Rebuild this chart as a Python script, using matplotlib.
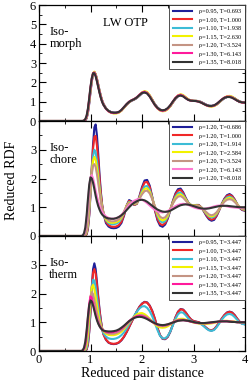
"""Reduced RDF of LW OTP along an isomorph, an isochore and an isotherm (three stacked panels)."""
import matplotlib
matplotlib.use("Agg")
import matplotlib.pyplot as plt
from matplotlib.ticker import MultipleLocator

plt.rcParams["font.family"] = ["Liberation Serif", "DejaVu Serif"]

# --- shared r grid (reduced pair distance) ---
r_grid = [0.00, 0.80, 0.825, 0.85, 0.875, 0.90, 0.925, 0.95, 0.975, 1.00,
          1.025, 1.05, 1.075, 1.10, 1.125, 1.15, 1.175, 1.20, 1.225, 1.25,
          1.30, 1.35, 1.40, 1.45, 1.50, 1.55, 1.60, 1.65, 1.70, 1.75,
          1.80, 1.85, 1.90, 1.95, 2.00, 2.05, 2.10, 2.15, 2.20, 2.25,
          2.30, 2.35, 2.40, 2.45, 2.50, 2.55, 2.60, 2.65, 2.70, 2.75,
          2.80, 2.85, 2.90, 2.95, 3.00, 3.05, 3.10, 3.15, 3.20, 3.25,
          3.30, 3.35, 3.40, 3.45, 3.50, 3.55, 3.60, 3.65, 3.70, 3.75,
          3.80, 3.85, 3.90, 3.95, 4.00]

# --- isomorph ---
morph_labels = ["ρ=0.95, T=0.693", "ρ=1.00, T=1.000", "ρ=1.10, T=1.938", "ρ=1.15, T=2.630",
                "ρ=1.20, T=3.524", "ρ=1.30, T=6.143", "ρ=1.35, T=8.018"]
g_morph_095 = [0, 0, 0, 0, 0.0, 0.03, 0.14, 0.42, 0.9, 1.5, 2.05, 2.42, 2.52, 2.42, 2.18, 1.88, 1.58, 1.3, 1.07, 0.9,
               0.66, 0.53, 0.46, 0.43, 0.43, 0.46, 0.55, 0.69, 0.84, 0.97,
               1.05, 1.11, 1.19, 1.31, 1.43, 1.49, 1.45, 1.31, 1.1, 0.87,
               0.7, 0.59, 0.55, 0.56, 0.63, 0.77, 0.96, 1.15, 1.28, 1.34,
               1.3, 1.21, 1.11, 1.06, 1.04, 1.04, 1.03, 0.98, 0.91, 0.84,
               0.79, 0.78, 0.8, 0.86, 0.96, 1.08, 1.18, 1.24, 1.26, 1.24,
               1.17, 1.08, 1.01, 0.97, 0.95]
g_morph_100 = [0, 0, 0, 0, 0.01, 0.04, 0.16, 0.46, 0.95, 1.55, 2.08, 2.44, 2.53, 2.41, 2.16, 1.86, 1.56, 1.29, 1.06, 0.89,
               0.65, 0.52, 0.45, 0.42, 0.42, 0.45, 0.54, 0.69, 0.84, 0.97,
               1.06, 1.12, 1.2, 1.32, 1.44, 1.5, 1.46, 1.31, 1.09, 0.86,
               0.69, 0.58, 0.54, 0.55, 0.63, 0.77, 0.97, 1.16, 1.29, 1.35,
               1.31, 1.21, 1.11, 1.06, 1.04, 1.04, 1.02, 0.97, 0.9, 0.83,
               0.78, 0.77, 0.79, 0.86, 0.97, 1.09, 1.19, 1.25, 1.27, 1.24,
               1.16, 1.07, 1.0, 0.96, 0.95]
g_morph_110 = [0, 0, 0, 0, 0.01, 0.05, 0.18, 0.5, 1.0, 1.6, 2.1, 2.45, 2.52, 2.4, 2.15, 1.85, 1.55, 1.28, 1.05, 0.88,
               0.65, 0.52, 0.45, 0.42, 0.42, 0.45, 0.55, 0.70, 0.85, 0.98,
               1.06, 1.12, 1.20, 1.32, 1.44, 1.50, 1.45, 1.30, 1.08, 0.85,
               0.68, 0.57, 0.53, 0.55, 0.63, 0.78, 0.98, 1.17, 1.30, 1.35,
               1.30, 1.20, 1.10, 1.05, 1.04, 1.04, 1.02, 0.97, 0.90, 0.83,
               0.78, 0.77, 0.79, 0.86, 0.97, 1.09, 1.19, 1.25, 1.27, 1.24,
               1.16, 1.07, 1.00, 0.96, 0.95]
g_morph_115 = [0, 0, 0, 0, 0.01, 0.06, 0.2, 0.53, 1.04, 1.64, 2.14, 2.48, 2.55, 2.41, 2.15, 1.84, 1.54, 1.27, 1.04, 0.87,
               0.64, 0.5, 0.42, 0.39, 0.39, 0.43, 0.53, 0.69, 0.85, 0.98,
               1.07, 1.13, 1.22, 1.35, 1.48, 1.55, 1.5, 1.33, 1.09, 0.84,
               0.65, 0.54, 0.5, 0.52, 0.61, 0.77, 0.98, 1.19, 1.33, 1.39,
               1.34, 1.23, 1.12, 1.06, 1.04, 1.04, 1.02, 0.96, 0.88, 0.81,
               0.76, 0.74, 0.77, 0.85, 0.97, 1.1, 1.21, 1.28, 1.3, 1.26,
               1.17, 1.07, 1.0, 0.95, 0.94]
g_morph_120 = [0, 0, 0, 0, 0.02, 0.07, 0.22, 0.56, 1.08, 1.68, 2.16, 2.47, 2.52, 2.38, 2.12, 1.82, 1.52, 1.25, 1.03, 0.86,
               0.64, 0.51, 0.44, 0.41, 0.41, 0.45, 0.55, 0.7, 0.86, 0.99,
               1.07, 1.13, 1.21, 1.34, 1.46, 1.52, 1.46, 1.3, 1.07, 0.84,
               0.67, 0.56, 0.52, 0.54, 0.63, 0.79, 0.99, 1.18, 1.31, 1.36,
               1.31, 1.2, 1.1, 1.05, 1.04, 1.04, 1.01, 0.96, 0.89, 0.82,
               0.77, 0.76, 0.79, 0.87, 0.98, 1.1, 1.2, 1.26, 1.27, 1.23,
               1.15, 1.06, 0.99, 0.95, 0.95]
g_morph_130 = [0, 0, 0, 0, 0.02, 0.08, 0.25, 0.6, 1.13, 1.73, 2.2, 2.48, 2.5, 2.35, 2.08, 1.78, 1.49, 1.23, 1.01, 0.85,
               0.63, 0.5, 0.43, 0.41, 0.42, 0.46, 0.57, 0.72, 0.87, 1.0,
               1.08, 1.14, 1.23, 1.36, 1.47, 1.51, 1.44, 1.27, 1.04, 0.82,
               0.66, 0.56, 0.53, 0.56, 0.65, 0.81, 1.01, 1.2, 1.32, 1.35,
               1.29, 1.18, 1.09, 1.05, 1.04, 1.03, 1.0, 0.95, 0.88, 0.81,
               0.77, 0.77, 0.8, 0.88, 1.0, 1.12, 1.21, 1.26, 1.26, 1.21,
               1.13, 1.05, 0.99, 0.95, 0.95]
g_morph_135 = [0, 0, 0, 0, 0.03, 0.1, 0.28, 0.64, 1.18, 1.77, 2.22, 2.47, 2.47, 2.31, 2.05, 1.75, 1.46, 1.2, 0.99, 0.84,
               0.64, 0.52, 0.45, 0.43, 0.43, 0.47, 0.57, 0.72, 0.87, 0.99,
               1.07, 1.13, 1.22, 1.34, 1.45, 1.48, 1.42, 1.26, 1.04, 0.83,
               0.68, 0.58, 0.55, 0.58, 0.67, 0.82, 1.01, 1.18, 1.29, 1.32,
               1.27, 1.17, 1.09, 1.05, 1.04, 1.03, 1.0, 0.95, 0.88, 0.82,
               0.78, 0.78, 0.81, 0.89, 1.0, 1.11, 1.2, 1.24, 1.24, 1.2,
               1.13, 1.05, 0.99, 0.96, 0.95]

# --- isochore (rho = 1.20) ---
chore_labels = ["ρ=1.20, T=0.686", "ρ=1.20, T=1.000", "ρ=1.20, T=1.914", "ρ=1.20, T=2.584",
                "ρ=1.20, T=3.524", "ρ=1.20, T=6.143", "ρ=1.20, T=8.018"]
g_chore_0686 = [0, 0, 0, 0, 0, 0.01, 0.06, 0.25, 0.7, 1.45, 2.35, 3.2, 3.78, 3.88, 3.5, 2.85, 2.15, 1.55, 1.1, 0.8,
                0.45, 0.33, 0.28, 0.27, 0.28, 0.33, 0.45, 0.7, 1.05, 1.25,
                1.2, 1.08, 1.12, 1.38, 1.7, 1.93, 1.95, 1.75, 1.35, 0.9,
                0.55, 0.36, 0.32, 0.4, 0.6, 0.9, 1.22, 1.48, 1.63, 1.65,
                1.52, 1.32, 1.16, 1.08, 1.06, 1.08, 1.08, 1.0, 0.86, 0.7,
                0.58, 0.53, 0.56, 0.7, 0.9, 1.12, 1.3, 1.42, 1.46, 1.4,
                1.27, 1.1, 0.97, 0.9, 0.88]
g_chore_1000 = [0, 0, 0, 0, 0, 0.01, 0.07, 0.28, 0.75, 1.5, 2.35, 3.05, 3.45, 3.48, 3.15, 2.6, 2.0, 1.48, 1.08, 0.8,
                0.5, 0.38, 0.33, 0.32, 0.33, 0.38, 0.5, 0.73, 1.05, 1.22,
                1.18, 1.08, 1.12, 1.36, 1.65, 1.86, 1.88, 1.7, 1.33, 0.92,
                0.6, 0.42, 0.38, 0.45, 0.63, 0.92, 1.2, 1.44, 1.58, 1.6,
                1.48, 1.3, 1.15, 1.08, 1.06, 1.07, 1.07, 1.0, 0.87, 0.73,
                0.62, 0.57, 0.6, 0.72, 0.91, 1.11, 1.28, 1.39, 1.43, 1.38,
                1.26, 1.1, 0.98, 0.91, 0.89]
g_chore_1914 = [0, 0, 0, 0, 0.01, 0.03, 0.12, 0.38, 0.88, 1.55, 2.25, 2.78, 3.0, 2.92, 2.6, 2.18, 1.72, 1.32, 1.0, 0.78,
                0.55, 0.45, 0.41, 0.41, 0.43, 0.48, 0.6, 0.8, 1.05, 1.18,
                1.16, 1.1, 1.14, 1.33, 1.56, 1.72, 1.74, 1.6, 1.32, 1.0,
                0.7, 0.52, 0.47, 0.52, 0.67, 0.92, 1.17, 1.37, 1.49, 1.51,
                1.42, 1.28, 1.15, 1.08, 1.06, 1.06, 1.05, 0.99, 0.89, 0.77,
                0.68, 0.64, 0.67, 0.77, 0.93, 1.1, 1.25, 1.34, 1.37, 1.33,
                1.23, 1.1, 0.99, 0.93, 0.91]
g_chore_2584 = [0, 0, 0, 0, 0.01, 0.04, 0.15, 0.45, 0.98, 1.62, 2.22, 2.62, 2.75, 2.65, 2.38, 2.02, 1.62, 1.27, 0.99, 0.79,
                0.58, 0.49, 0.46, 0.46, 0.48, 0.53, 0.64, 0.83, 1.05, 1.16,
                1.15, 1.11, 1.15, 1.31, 1.5, 1.64, 1.66, 1.54, 1.3, 1.02,
                0.76, 0.59, 0.54, 0.58, 0.71, 0.93, 1.15, 1.32, 1.43, 1.45,
                1.38, 1.26, 1.14, 1.08, 1.06, 1.06, 1.05, 0.99, 0.9, 0.8,
                0.71, 0.68, 0.71, 0.8, 0.94, 1.09, 1.22, 1.3, 1.33, 1.3,
                1.21, 1.1, 1.0, 0.94, 0.92]
g_chore_3524 = [0, 0, 0, 0, 0.01, 0.05, 0.18, 0.52, 1.05, 1.65, 2.15, 2.45, 2.5, 2.4, 2.15, 1.85, 1.52, 1.22, 0.98, 0.8,
                0.62, 0.54, 0.51, 0.51, 0.53, 0.58, 0.68, 0.85, 1.04, 1.14,
                1.14, 1.12, 1.16, 1.29, 1.45, 1.56, 1.58, 1.48, 1.28, 1.04,
                0.82, 0.67, 0.62, 0.65, 0.76, 0.94, 1.13, 1.28, 1.37, 1.39,
                1.33, 1.23, 1.13, 1.07, 1.05, 1.05, 1.04, 0.99, 0.91, 0.83,
                0.75, 0.72, 0.75, 0.83, 0.95, 1.08, 1.19, 1.26, 1.28, 1.26,
                1.18, 1.09, 1.0, 0.95, 0.93]
g_chore_6143 = [0, 0, 0, 0.01, 0.06, 0.22, 0.6, 1.15, 1.7, 2.05, 2.12, 2.0, 1.8, 1.58, 1.38, 1.2, 1.05, 0.93, 0.84, 0.77,
                0.68, 0.63, 0.6, 0.6, 0.62, 0.66, 0.73, 0.83, 0.95, 1.07,
                1.16, 1.23, 1.27, 1.28, 1.26, 1.21, 1.14, 1.06, 0.98, 0.91,
                0.86, 0.83, 0.82, 0.84, 0.87, 0.92, 0.98, 1.04, 1.08, 1.11,
                1.12, 1.11, 1.08, 1.04, 1.0, 0.97, 0.95, 0.94, 0.94, 0.96,
                0.98, 1.0, 1.03, 1.05, 1.06, 1.06, 1.05, 1.03, 1.01, 1.0,
                0.99, 0.98, 0.98, 0.99, 1.0]
g_chore_8018 = [0, 0, 0, 0.02, 0.1, 0.3, 0.72, 1.28, 1.78, 2.04, 2.0, 1.85, 1.63, 1.4, 1.2, 1.04, 0.92, 0.82, 0.75, 0.7,
                0.64, 0.61, 0.6, 0.6, 0.62, 0.66, 0.72, 0.8, 0.9, 1.0,
                1.09, 1.16, 1.21, 1.25, 1.26, 1.24, 1.19, 1.12, 1.05, 0.98,
                0.92, 0.88, 0.85, 0.84, 0.85, 0.88, 0.93, 0.98, 1.03, 1.07,
                1.09, 1.1, 1.09, 1.07, 1.04, 1.01, 0.98, 0.96, 0.95, 0.95,
                0.96, 0.98, 1.0, 1.02, 1.04, 1.05, 1.05, 1.05, 1.04, 1.03,
                1.02, 1.01, 1.0, 1.0, 1.0]

# --- isotherm (T = 3.447) ---
therm_labels = ["ρ=0.95, T=3.447", "ρ=1.00, T=3.447", "ρ=1.10, T=3.447", "ρ=1.15, T=3.447",
                "ρ=1.20, T=3.447", "ρ=1.30, T=3.447", "ρ=1.35, T=3.447"]
g_therm_095 = [0, 0, 0, 0, 0, 0.01, 0.05, 0.22, 0.65, 1.35, 2.2, 2.85, 3.05, 2.85, 2.4, 1.9, 1.45, 1.08, 0.8, 0.6,
               0.39, 0.29, 0.25, 0.24, 0.25, 0.29, 0.37, 0.49, 0.65, 0.83,
               1.02, 1.2, 1.38, 1.54, 1.65, 1.71, 1.69, 1.58, 1.39, 1.12,
               0.8, 0.55, 0.42, 0.41, 0.49, 0.67, 0.92, 1.17, 1.37, 1.46,
               1.44, 1.34, 1.21, 1.1, 1.04, 1.02, 1.0, 0.96, 0.88, 0.8,
               0.73, 0.71, 0.75, 0.86, 0.99, 1.13, 1.25, 1.34, 1.37, 1.34,
               1.25, 1.12, 1.01, 0.95, 0.93]
g_therm_100 = [0, 0, 0, 0, 0, 0.01, 0.06, 0.25, 0.7, 1.4, 2.2, 2.72, 2.85, 2.68, 2.28, 1.82, 1.4, 1.05, 0.78, 0.58,
               0.4, 0.3, 0.26, 0.25, 0.26, 0.3, 0.38, 0.5, 0.66, 0.84,
               1.02, 1.2, 1.38, 1.53, 1.64, 1.7, 1.68, 1.57, 1.38, 1.12,
               0.8, 0.55, 0.43, 0.42, 0.5, 0.68, 0.92, 1.17, 1.36, 1.45,
               1.43, 1.33, 1.2, 1.1, 1.04, 1.02, 1.0, 0.96, 0.88, 0.8,
               0.74, 0.72, 0.76, 0.86, 0.99, 1.13, 1.25, 1.33, 1.36, 1.33,
               1.24, 1.12, 1.01, 0.95, 0.93]
g_therm_110 = [0, 0, 0, 0, 0.01, 0.03, 0.12, 0.38, 0.9, 1.6, 2.2, 2.48, 2.45, 2.22, 1.88, 1.52, 1.2, 0.94, 0.75, 0.62,
               0.5, 0.44, 0.42, 0.42, 0.44, 0.48, 0.55, 0.65, 0.78, 0.93,
               1.08, 1.23, 1.37, 1.48, 1.55, 1.56, 1.5, 1.38, 1.2, 0.97,
               0.73, 0.53, 0.44, 0.44, 0.52, 0.68, 0.9, 1.12, 1.28, 1.35,
               1.33, 1.24, 1.13, 1.05, 1.01, 0.99, 0.97, 0.93, 0.86, 0.78,
               0.72, 0.7, 0.73, 0.83, 0.96, 1.09, 1.2, 1.27, 1.29, 1.26,
               1.18, 1.08, 0.99, 0.94, 0.93]
g_therm_115 = [0, 0, 0, 0, 0.02, 0.07, 0.22, 0.58, 1.18, 1.8, 2.22, 2.3, 2.15, 1.88, 1.58, 1.3, 1.07, 0.9, 0.78, 0.69,
               0.6, 0.56, 0.55, 0.55, 0.57, 0.61, 0.67, 0.76, 0.87, 0.99,
               1.1, 1.2, 1.27, 1.31, 1.32, 1.28, 1.21, 1.12, 1.02, 0.93,
               0.86, 0.82, 0.81, 0.82, 0.86, 0.92, 0.99, 1.06, 1.1, 1.12,
               1.12, 1.09, 1.05, 1.02, 0.99, 0.97, 0.96, 0.95, 0.94, 0.94,
               0.95, 0.96, 0.98, 1.0, 1.02, 1.04, 1.05, 1.05, 1.04, 1.03,
               1.02, 1.01, 1.0, 1.0, 1.0]
g_therm_120 = [0, 0, 0, 0.01, 0.04, 0.13, 0.38, 0.85, 1.45, 1.9, 2.05, 1.98, 1.78, 1.55, 1.32, 1.12, 0.97, 0.86, 0.78, 0.72,
               0.64, 0.61, 0.6, 0.6, 0.62, 0.66, 0.72, 0.8, 0.9, 1.0,
               1.1, 1.17, 1.22, 1.25, 1.25, 1.22, 1.17, 1.1, 1.02, 0.95,
               0.9, 0.87, 0.86, 0.87, 0.9, 0.95, 1.0, 1.05, 1.08, 1.09,
               1.09, 1.07, 1.05, 1.02, 1.0, 0.98, 0.97, 0.96, 0.96, 0.96,
               0.97, 0.98, 1.0, 1.01, 1.03, 1.04, 1.04, 1.04, 1.03, 1.02,
               1.01, 1.0, 1.0, 1.0, 1.0]
g_therm_130 = [0, 0, 0, 0.02, 0.08, 0.25, 0.62, 1.15, 1.65, 1.9, 1.85, 1.68, 1.48, 1.28, 1.11, 0.98, 0.88, 0.8, 0.75, 0.71,
               0.67, 0.65, 0.65, 0.66, 0.68, 0.72, 0.78, 0.86, 0.95, 1.04,
               1.11, 1.17, 1.21, 1.22, 1.21, 1.18, 1.13, 1.07, 1.01, 0.96,
               0.92, 0.9, 0.89, 0.9, 0.92, 0.95, 0.99, 1.03, 1.06, 1.07,
               1.07, 1.06, 1.04, 1.02, 1.0, 0.98, 0.97, 0.97, 0.97, 0.97,
               0.98, 0.99, 1.0, 1.01, 1.02, 1.03, 1.03, 1.03, 1.02, 1.02,
               1.01, 1.0, 1.0, 1.0, 1.0]
g_therm_135 = [0, 0, 0, 0.03, 0.12, 0.33, 0.72, 1.2, 1.6, 1.76, 1.72, 1.58, 1.4, 1.22, 1.07, 0.95, 0.86, 0.79, 0.74, 0.71,
               0.69, 0.68, 0.68, 0.69, 0.71, 0.75, 0.81, 0.88, 0.96, 1.04,
               1.1, 1.15, 1.18, 1.19, 1.18, 1.15, 1.11, 1.06, 1.01, 0.97,
               0.93, 0.91, 0.9, 0.91, 0.93, 0.96, 0.99, 1.02, 1.05, 1.06,
               1.07, 1.06, 1.05, 1.03, 1.01, 0.99, 0.98, 0.97, 0.97, 0.98,
               0.99, 1.0, 1.01, 1.02, 1.03, 1.03, 1.03, 1.03, 1.02, 1.01,
               1.01, 1.0, 1.0, 1.0, 1.0]

colors = ["#1f1f99", "#f02828", "#3cbcd6", "#f2f200", "#c49484", "#ff1a9c", "#333333"]
colors_chore = ["#1f1f99", "#f02828", "#3cbcd6", "#f2f200", "#c49484", "#ff7ad2", "#333333"]

panels = [
    ("Iso-\nmorph", [g_morph_095, g_morph_100, g_morph_110, g_morph_115, g_morph_120, g_morph_130, g_morph_135],
     morph_labels, colors, 6),
    ("Iso-\nchore", [g_chore_0686, g_chore_1000, g_chore_1914, g_chore_2584, g_chore_3524, g_chore_6143, g_chore_8018],
     chore_labels, colors_chore, 4),
    ("Iso-\ntherm", [g_therm_095, g_therm_100, g_therm_110, g_therm_115, g_therm_120, g_therm_130, g_therm_135],
     therm_labels, colors, 4),
]

fig = plt.figure(figsize=(2.49, 3.84), dpi=100)
left, width = 39 / 249, 206 / 249
boxes = [(263 / 384, 116 / 384), (148 / 384, 115 / 384), (33 / 384, 115 / 384)]

for i, (name, curves, labels, cols, ymax) in enumerate(panels):
    ax = fig.add_axes([left, boxes[i][0], width, boxes[i][1]])
    for g, lab, c in zip(curves, labels, cols):
        ax.plot(r_grid, g, color=c, lw=1.5, label=lab)
    ax.set_xlim(0, 4)
    ax.set_ylim(0, ymax)
    ax.xaxis.set_major_locator(MultipleLocator(1))
    ax.xaxis.set_minor_locator(MultipleLocator(0.5))
    ax.yaxis.set_major_locator(MultipleLocator(1))
    ax.yaxis.set_minor_locator(MultipleLocator(0.5))
    ax.tick_params(which="both", direction="in", top=True, right=True, labelsize=9, pad=2)
    ax.tick_params(which="major", length=5, width=0.8)
    ax.tick_params(which="minor", length=2.5, width=0.6)
    if i < 2:
        ax.tick_params(labelbottom=False)
    if i > 0:
        ax.set_yticks([0, 1, 2, 3, 4])
        ax.set_yticklabels(["0", "1", "2", "3", ""])
    for s in ax.spines.values():
        s.set_linewidth(0.9)
    ax.text(0.05, 0.82, name, transform=ax.transAxes, ha="left", va="top",
            fontsize=9, linespacing=1.05)
    leg = ax.legend(loc="upper right", fontsize=4.5, frameon=True, fancybox=False,
                    edgecolor="#333333", framealpha=1, borderaxespad=0,
                    handlelength=3.0, handletextpad=1.2, labelspacing=0.5,
                    borderpad=0.6)
    leg.get_frame().set_linewidth(0.6)
    if i == 0:
        ax.text(0.31, 0.9, "LW OTP", transform=ax.transAxes, ha="left", va="top", fontsize=9)
    if i == 2:
        ax.set_xlabel("Reduced pair distance", fontsize=10, labelpad=1)

fig.text(0.045, 0.53, "Reduced RDF", rotation=90, ha="center", va="center", fontsize=10)

fig.savefig("out.png", dpi=100)
